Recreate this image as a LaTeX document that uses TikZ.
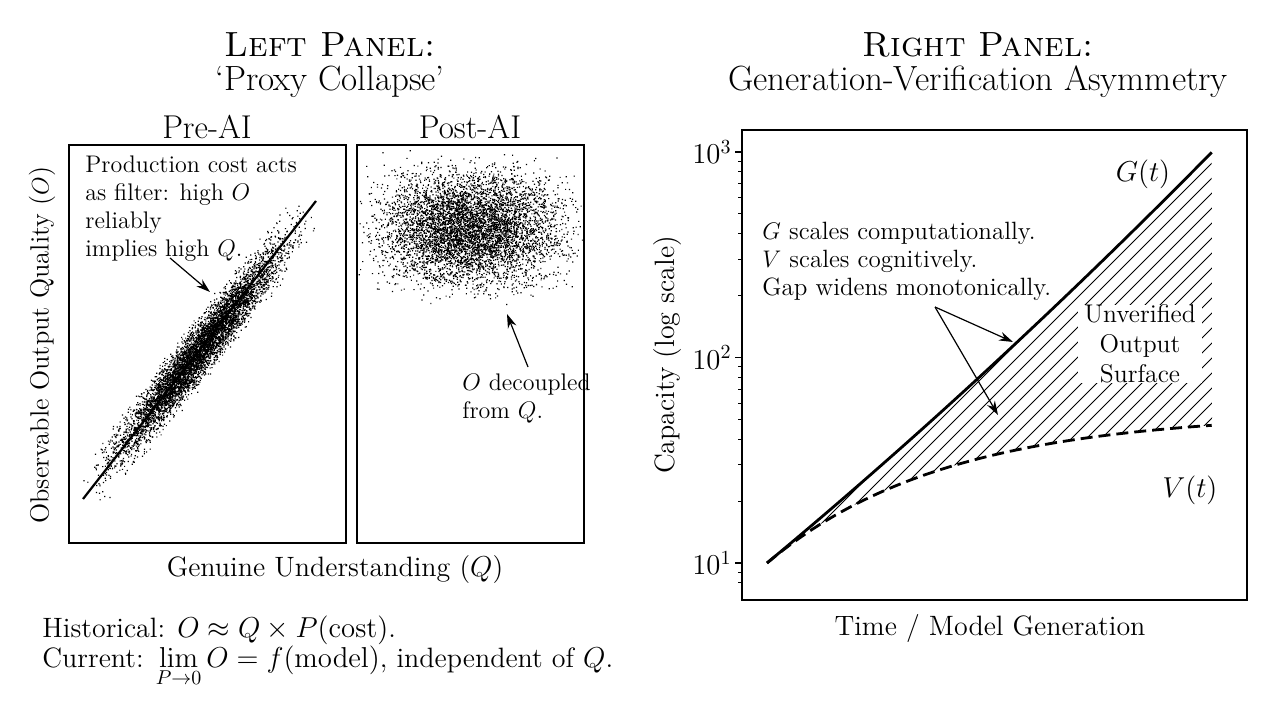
\documentclass[tikz,border=0pt]{standalone}
\usetikzlibrary{arrows.meta}
\begin{document}
\begin{tikzpicture}[x=0.5pt,y=-0.5pt,
  lbl/.style={font=\fontsize{14}{16.5}\selectfont, inner sep=0pt},
  ann/.style={font=\fontsize{12}{14}\selectfont, inner sep=0pt, align=left},
  ttl/.style={font=\fontsize{17.5}{21}\selectfont, inner sep=0pt},
  arr/.style={-{Stealth[length=7pt,width=4.5pt]}, line width=0.6pt},
  frame/.style={line width=0.7pt},
  dot/.style={black}]
\useasboundingbox (0,0) rectangle (1261,704);
% titles
\node[ttl] (lt1) at (330,45) {\textsc{Left Panel:}};
\node[ttl] (lt2) at (330,82) {`Proxy Collapse'};
\node[ttl] (rt1) at (978,45) {\textsc{Right Panel:}};
\node[ttl] (rt2) at (978,82) {Generation-Verification Asymmetry};
\node[font=\fontsize{16.5}{19}\selectfont, inner sep=0pt] (pre) at (207,127) {Pre-AI};
\node[font=\fontsize{16.5}{19}\selectfont, inner sep=0pt] (post) at (470,127) {Post-AI};
% scatter
\pgfmathsetseed{42}
\foreach \j in {1,...,6}{
  \gdef\ptsA{}\gdef\ptsB{}
  \foreach \i in {1,...,1000}{
    \pgfmathsetmacro{\u}{0.5+0.17*(rand+rand+rand)}
    \pgfmathsetmacro{\v}{8.5*(rand+rand+rand)}
    \pgfmathsetmacro{\px}{83+233*\u+0.787*\v}
    \pgfmathsetmacro{\py}{499-298*\u+0.616*\v}
    \xdef\ptsA{\ptsA (\px,\py) rectangle ++(1.2,1.2)}
    \pgfmathsetmacro{\qx}{470+42*(rand+rand+rand)}
    \pgfmathsetmacro{\qy}{228+27*(rand+rand+rand)}
    \xdef\ptsB{\ptsB (\qx,\qy) rectangle ++(1.2,1.2)}
  }
  \begin{scope}
    \clip (69,145) rectangle (346,543);
    \expandafter\fill\ptsA;
  \end{scope}
  \begin{scope}
    \clip (357,145) rectangle (584,543);
    \expandafter\fill\ptsB;
  \end{scope}
}
\coordinate (l0) at (83,499); \coordinate (l1) at (316,201);
\draw[line width=1.1pt] (l0) -- (l1);
\draw[frame] (69,145) rectangle (346,543);
\draw[frame] (357,145) rectangle (584,543);
\node[ann, anchor=north west] (prod) at (85,155) {Production cost acts\\as filter: high $O$\\reliably\\implies high $Q$.};
\coordinate (pa0) at (170,258); \coordinate (pa1) at (210,292);
\draw[arr] (pa0) -- (pa1);
\node[ann, anchor=north west] (dec) at (462,373) {$O$ decoupled\\from $Q$.};
\coordinate (pb0) at (528,367); \coordinate (pb1) at (507,314);
\draw[arr] (pb0) -- (pb1);
\node[font=\fontsize{13.2}{15}\selectfont, inner sep=0pt, rotate=90] (ylab) at (42,345) {Observable Output Quality ($O$)};
\node[lbl] (xlab) at (335,570) {Genuine Understanding ($Q$)};
\node[lbl, anchor=west] (hist) at (42,630) {Historical: $O \approx Q \times P(\mathrm{cost})$.};
\node[lbl, anchor=west] (curr) at (42,666) {Current: $\lim\limits_{P\to0} O = f(\mathrm{model})$, independent of $Q$.};
% right panel
\begin{scope}
\clip plot[domain=0:1,samples=60] ({767+445*\x},{563-205.5*2*(0.9*\x+0.1*\x*\x)})
  -- plot[domain=1:0,samples=60] ({767+445*\x},{563-205.5*0.67*(1-exp(-2.5*\x))/(1-exp(-2.5))}) -- cycle;
\foreach \x in {500,515,...,1320}{
  \draw[line width=0.5pt] (\x,620) -- ++(520,-520);
}
\end{scope}
\draw[line width=1.4pt] plot[domain=0:1,samples=60] ({767+445*\x},{563-205.5*2*(0.9*\x+0.1*\x*\x)});
\draw[line width=1.4pt, dash pattern=on 6pt off 3pt] plot[domain=0:1,samples=60] ({767+445*\x},{563-205.5*0.67*(1-exp(-2.5*\x))/(1-exp(-2.5))});
\node[font=\fontsize{12.8}{15}\selectfont, inner sep=0pt, fill=white, align=center, minimum width=62pt, minimum height=39pt] (surf) at (1140,344) {Unverified\\Output\\Surface};
\draw[frame] (742,130) rectangle (1247,600);
\foreach \t in {563,357.5,152}{
  \draw[frame] (742,\t) -- ++(-7,0);
}
\node[lbl, anchor=east] (t3) at (732,152) {$10^3$};
\node[lbl, anchor=east] (t2) at (732,357.5) {$10^2$};
\node[lbl, anchor=east] (t1) at (732,563) {$10^1$};
\foreach \d in {0,1}{
  \foreach \k in {2,...,9}{
    \draw[line width=0.5pt] (742,{563-205.5*(\d+log10(\k))}) -- ++(-4,0);
  }
}
\foreach \k in {8,9}{
  \draw[line width=0.5pt] (742,{563-205.5*(log10(\k)-1)}) -- ++(-4,0);
}
\node[font=\fontsize{15}{18}\selectfont, inner sep=0pt] (gt) at (1143,174) {$G(t)$};
\node[font=\fontsize{15}{18}\selectfont, inner sep=0pt] (vt) at (1190,490) {$V(t)$};
\node[font=\fontsize{12.5}{14}\selectfont, inner sep=0pt, anchor=north west, align=left] (gtxt) at (762,222) {$G$ scales computationally.\\$V$ scales cognitively.\\Gap widens monotonically.};
\coordinate (ga0) at (935,307); \coordinate (ga1) at (1013,342); \coordinate (ga2) at (998,415);
\draw[arr] (ga0) -- (ga1);
\draw[arr] (ga0) -- (ga2);
\node[lbl, rotate=90] (rylab) at (668,355) {Capacity (log scale)};
\node[lbl] (rxlab) at (990,628) {Time / Model Generation};
\end{tikzpicture}
\end{document}
